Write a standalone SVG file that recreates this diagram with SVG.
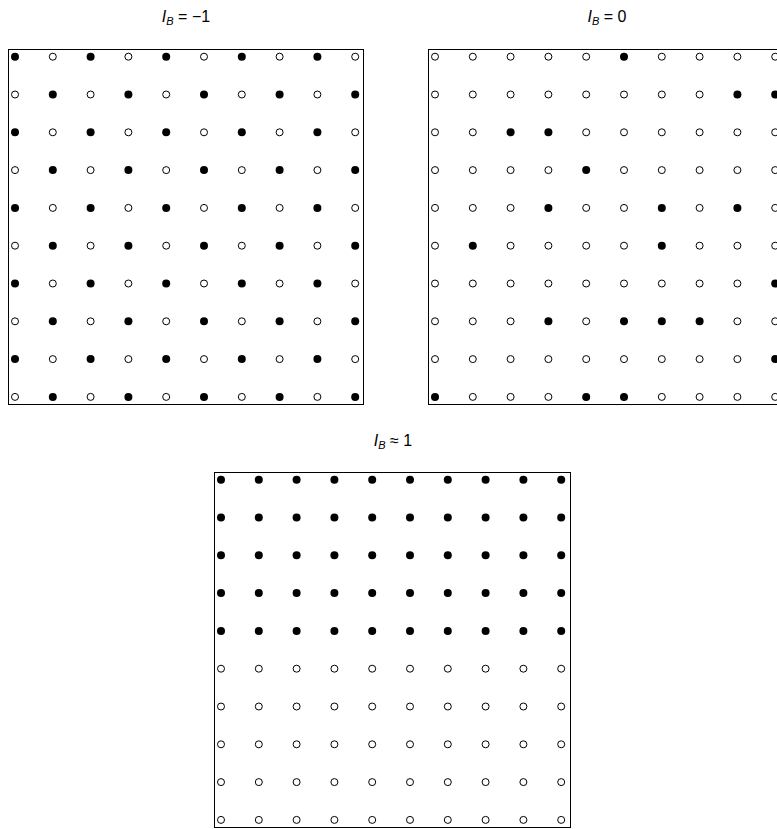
<svg xmlns="http://www.w3.org/2000/svg" xmlns:xlink="http://www.w3.org/1999/xlink" width="777" height="829" viewBox="0 0 777 829">
<style>
.t{font-family:"Liberation Sans",Arial,sans-serif;font-size:16px;fill:#000;text-anchor:middle}
.i{font-style:italic}
.s{font-style:italic;font-size:11px}
.box{fill:#fff;stroke:#000;stroke-width:1}
</style>
<defs>
<circle id="b" r="4" fill="#000"/>
<circle id="w" r="3.5" fill="#fff" stroke="#000" stroke-width="1"/>
<g id="rA">
<use href="#b" x="7"/><use href="#w" x="44.8"/><use href="#b" x="82.6"/><use href="#w" x="120.4"/><use href="#b" x="158.2"/><use href="#w" x="196"/><use href="#b" x="233.8"/><use href="#w" x="271.6"/><use href="#b" x="309.4"/><use href="#w" x="347.2"/>
</g>
<g id="rB">
<use href="#w" x="7"/><use href="#b" x="44.8"/><use href="#w" x="82.6"/><use href="#b" x="120.4"/><use href="#w" x="158.2"/><use href="#b" x="196"/><use href="#w" x="233.8"/><use href="#b" x="271.6"/><use href="#w" x="309.4"/><use href="#b" x="347.2"/>
</g>
<g id="rF">
<use href="#b" x="7"/><use href="#b" x="44.8"/><use href="#b" x="82.6"/><use href="#b" x="120.4"/><use href="#b" x="158.2"/><use href="#b" x="196"/><use href="#b" x="233.8"/><use href="#b" x="271.6"/><use href="#b" x="309.4"/><use href="#b" x="347.2"/>
</g>
<g id="rO">
<use href="#w" x="7"/><use href="#w" x="44.8"/><use href="#w" x="82.6"/><use href="#w" x="120.4"/><use href="#w" x="158.2"/><use href="#w" x="196"/><use href="#w" x="233.8"/><use href="#w" x="271.6"/><use href="#w" x="309.4"/><use href="#w" x="347.2"/>
</g>
</defs>
<rect width="777" height="829" fill="#fff"/>

<g id="panel-minus1">
<text class="t" x="186" y="22"><tspan class="i">I</tspan><tspan class="s" dy="3">B</tspan><tspan dy="-3"> = −1</tspan></text>
<g transform="translate(8,49)">
<rect class="box" x="0.5" y="0.5" width="355" height="355"/>
<use href="#rA" y="7.7"/>
<use href="#rB" y="45.5"/>
<use href="#rA" y="83.3"/>
<use href="#rB" y="121.1"/>
<use href="#rA" y="158.9"/>
<use href="#rB" y="196.7"/>
<use href="#rA" y="234.5"/>
<use href="#rB" y="272.3"/>
<use href="#rA" y="310.1"/>
<use href="#rB" y="347.9"/>
</g>
</g>

<g id="panel-zero">
<text class="t" x="607" y="22"><tspan class="i">I</tspan><tspan class="s" dy="3">B</tspan><tspan dy="-3"> = 0</tspan></text>
<g transform="translate(428,49)">
<rect class="box" x="0.5" y="0.5" width="355" height="355"/>
<g transform="translate(0,7.7)">
<use href="#w" x="7"/><use href="#w" x="44.8"/><use href="#w" x="82.6"/><use href="#w" x="120.4"/><use href="#w" x="158.2"/><use href="#b" x="196"/><use href="#w" x="233.8"/><use href="#w" x="271.6"/><use href="#w" x="309.4"/><use href="#w" x="347.2"/>
</g>
<g transform="translate(0,45.5)">
<use href="#w" x="7"/><use href="#w" x="44.8"/><use href="#w" x="82.6"/><use href="#w" x="120.4"/><use href="#w" x="158.2"/><use href="#w" x="196"/><use href="#w" x="233.8"/><use href="#w" x="271.6"/><use href="#b" x="309.4"/><use href="#b" x="347.2"/>
</g>
<g transform="translate(0,83.3)">
<use href="#w" x="7"/><use href="#w" x="44.8"/><use href="#b" x="82.6"/><use href="#b" x="120.4"/><use href="#w" x="158.2"/><use href="#w" x="196"/><use href="#w" x="233.8"/><use href="#w" x="271.6"/><use href="#w" x="309.4"/><use href="#w" x="347.2"/>
</g>
<g transform="translate(0,121.1)">
<use href="#w" x="7"/><use href="#w" x="44.8"/><use href="#w" x="82.6"/><use href="#w" x="120.4"/><use href="#b" x="158.2"/><use href="#w" x="196"/><use href="#w" x="233.8"/><use href="#w" x="271.6"/><use href="#w" x="309.4"/><use href="#w" x="347.2"/>
</g>
<g transform="translate(0,158.9)">
<use href="#w" x="7"/><use href="#w" x="44.8"/><use href="#w" x="82.6"/><use href="#b" x="120.4"/><use href="#w" x="158.2"/><use href="#w" x="196"/><use href="#b" x="233.8"/><use href="#w" x="271.6"/><use href="#b" x="309.4"/><use href="#w" x="347.2"/>
</g>
<g transform="translate(0,196.7)">
<use href="#w" x="7"/><use href="#b" x="44.8"/><use href="#w" x="82.6"/><use href="#w" x="120.4"/><use href="#w" x="158.2"/><use href="#w" x="196"/><use href="#b" x="233.8"/><use href="#w" x="271.6"/><use href="#w" x="309.4"/><use href="#w" x="347.2"/>
</g>
<g transform="translate(0,234.5)">
<use href="#w" x="7"/><use href="#w" x="44.8"/><use href="#w" x="82.6"/><use href="#w" x="120.4"/><use href="#w" x="158.2"/><use href="#w" x="196"/><use href="#w" x="233.8"/><use href="#w" x="271.6"/><use href="#w" x="309.4"/><use href="#b" x="347.2"/>
</g>
<g transform="translate(0,272.3)">
<use href="#w" x="7"/><use href="#w" x="44.8"/><use href="#w" x="82.6"/><use href="#b" x="120.4"/><use href="#w" x="158.2"/><use href="#b" x="196"/><use href="#b" x="233.8"/><use href="#b" x="271.6"/><use href="#w" x="309.4"/><use href="#w" x="347.2"/>
</g>
<g transform="translate(0,310.1)">
<use href="#w" x="7"/><use href="#w" x="44.8"/><use href="#w" x="82.6"/><use href="#w" x="120.4"/><use href="#w" x="158.2"/><use href="#w" x="196"/><use href="#w" x="233.8"/><use href="#w" x="271.6"/><use href="#w" x="309.4"/><use href="#b" x="347.2"/>
</g>
<g transform="translate(0,347.9)">
<use href="#b" x="7"/><use href="#w" x="44.8"/><use href="#w" x="82.6"/><use href="#w" x="120.4"/><use href="#b" x="158.2"/><use href="#b" x="196"/><use href="#w" x="233.8"/><use href="#w" x="271.6"/><use href="#w" x="309.4"/><use href="#w" x="347.2"/>
</g>
</g>
</g>

<g id="panel-one">
<text class="t" x="393" y="446"><tspan class="i">I</tspan><tspan class="s" dy="3">B</tspan><tspan dy="-3"> ≈ 1</tspan></text>
<g transform="translate(214,472)">
<rect class="box" x="0.5" y="0.5" width="356" height="355"/>
<use href="#rF" y="7.7"/>
<use href="#rF" y="45.5"/>
<use href="#rF" y="83.3"/>
<use href="#rF" y="121.1"/>
<use href="#rF" y="158.9"/>
<use href="#rO" y="196.7"/>
<use href="#rO" y="234.5"/>
<use href="#rO" y="272.3"/>
<use href="#rO" y="310.1"/>
<use href="#rO" y="347.9"/>
</g>
</g>
</svg>
